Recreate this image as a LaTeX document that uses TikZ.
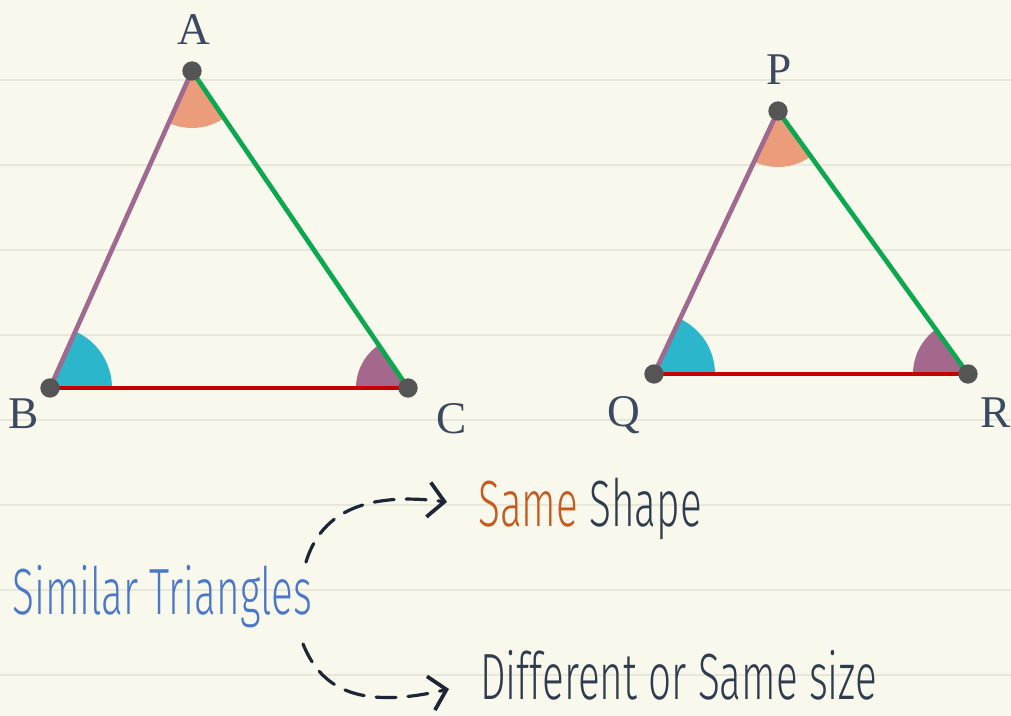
\documentclass[tikz,border=0pt]{standalone}
\usepackage{fontspec}
\usetikzlibrary{angles,arrows.meta}
\newfontfamily\labelfont{Liberation Serif}
\newfontfamily\handfont[FakeStretch=0.62]{Fira Sans Light}
\definecolor{paper}{HTML}{F8F8EC}
\definecolor{rule}{HTML}{E7E7DA}
\definecolor{sidepurple}{HTML}{A0698F}
\definecolor{sidegreen}{HTML}{0BA84F}
\definecolor{sidered}{HTML}{C40000}
\definecolor{angorange}{HTML}{EB9C7A}
\definecolor{angcyan}{HTML}{2BB6CC}
\definecolor{angpurple}{HTML}{A3688C}
\definecolor{dotgray}{HTML}{555555}
\definecolor{labelink}{HTML}{3B4A61}
\definecolor{handblue}{HTML}{4A77C9}
\definecolor{handorange}{HTML}{C65A1C}
\definecolor{handdark}{HTML}{2F3B4E}
\definecolor{arrowink}{HTML}{1C2638}
\tikzset{
  ruleline/.style={rule, line width=2.2pt},
  sidebase/.style={line width=3.5pt},
  vdot/.style={circle, fill=dotgray, inner sep=0pt, minimum size=14.5pt},
  vlabel/.style={text=labelink, font=\labelfont\fontsize{34}{40}\selectfont, inner sep=0pt},
  handtext/.style={font=\handfont\fontsize{49}{58}\selectfont, inner sep=0pt, anchor=base west},
  dasharrow/.style={arrowink, line width=2.4pt, line cap=round, dash pattern=on 15pt off 9pt,
    -{Straight Barb[length=12pt, width=26pt, line width=2.8pt]}},
}
\begin{document}
\begin{tikzpicture}[x=0.75pt,y=0.75pt]
\fill[paper] (0,0) rectangle (1011,716);
\useasboundingbox (0,0) rectangle (1011,716);
\foreach \yy in {636,551,466,381,296,211,126,41}
  \draw[ruleline] (0,\yy) -- (1011,\yy);

% triangle ABC
\coordinate (A) at (192,645);
\coordinate (B) at (50,328);
\coordinate (C) at (408,328);
\pic[fill=angorange, angle radius=42.75pt] {angle=B--A--C};
\pic[fill=angcyan, angle radius=46.5pt] {angle=C--B--A};
\pic[fill=angpurple, angle radius=39pt] {angle=A--C--B};
\draw[sidebase, sidepurple] (B) -- (A);
\draw[sidebase, sidegreen] (A) -- (C);
\draw[sidebase, sidered] (B) -- (C);
\node[vdot] (dA) at (A) {};
\node[vdot] (dB) at (B) {};
\node[vdot] (dC) at (C) {};
\node[vlabel] (lA) at (194,686) {A};
\node[vlabel] (lB) at (24,302) {B};
\node[vlabel] (lC) at (452,297) {C};

% triangle PQR
\coordinate (P) at (778,605);
\coordinate (Q) at (654,342);
\coordinate (R) at (968,342);
\pic[fill=angorange, angle radius=42pt] {angle=Q--P--R};
\pic[fill=angcyan, angle radius=45.75pt] {angle=R--Q--P};
\pic[fill=angpurple, angle radius=41.25pt] {angle=P--R--Q};
\draw[sidebase, sidepurple] (Q) -- (P);
\draw[sidebase, sidegreen] (P) -- (R);
\draw[sidebase, sidered] (Q) -- (R);
\node[vdot] (dP) at (P) {};
\node[vdot] (dQ) at (Q) {};
\node[vdot] (dR) at (R) {};
\node[vlabel] (lP) at (779,646) {P};
\node[vlabel] (lQ) at (624,301) {Q};
\node[vlabel] (lR) at (996,303) {R};

% texts
\node[handtext, text=handblue] (sim) at (12,101) {Similar Triangles};
\node[handtext, text=handdark] (shape) at (478,189) {\textcolor{handorange}{Same} Shape};
\node[handtext, text=handdark] (size) at (480,16) {Different or Same size};

% arrows
\coordinate (u0) at (306,154);
\coordinate (u1) at (447,214);
\coordinate (d0) at (303,72);
\coordinate (d1) at (449,27);
\draw[dasharrow] (u0) .. controls (320,200) and (360,225) .. (u1);
\draw[dasharrow] (d0) .. controls (320,30) and (355,5) .. (d1);
\end{tikzpicture}
\end{document}
